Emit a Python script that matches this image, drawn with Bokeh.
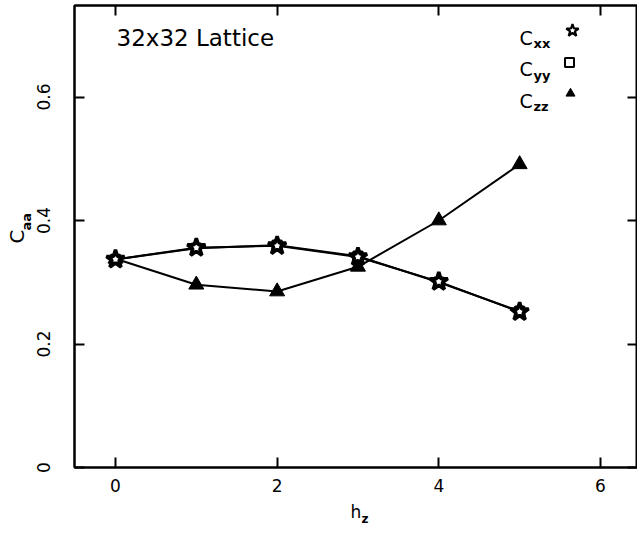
import math
from bokeh.plotting import figure
from bokeh.models import Range1d, LinearAxis, FixedTicker, Label, Title
from bokeh.embed import file_html
from bokeh.resources import INLINE

# ---- data ----
h = [0, 1, 2, 3, 4, 5]
cxx = [0.337, 0.356, 0.359, 0.341, 0.301, 0.252]
cyy = [0.337, 0.355, 0.360, 0.342, 0.300, 0.253]
czz = [0.338, 0.296, 0.285, 0.325, 0.400, 0.491]
x_ticks = [0, 2, 4, 6]
y_ticks = [0, 0.2, 0.4, 0.6]
y_tick_labels = ["0", "0.2", "0.4", "0.6"]
x_tick_labels = ["0", "2", "4", "6"]
title_text = "32x32 Lattice"
legend_main = ["C", "C", "C"]
legend_sub = ["xx", "yy", "zz"]
x_title, x_title_sub = "h", "z"
y_title, y_title_sub = "C", "aa"

# ---- layout (figure pixel coordinates) ----
FX0, FW = 74, 563          # frame left and width
FY0, FH = 5, 462           # frame top and height
XMIN = -0.507
XMAX = XMIN + FW / 80.83
YMIN = 0.0
YMAX = FH / 617.5
FONT = "DejaVu Sans"

def dx(px):
    return XMIN + (px - FX0) / FW * (XMAX - XMIN)

def dy(py):
    return YMIN + (FY0 + FH - py) / FH * (YMAX - YMIN)

p = figure(frame_width=FW, frame_height=FH,
           x_range=Range1d(XMIN, XMAX), y_range=Range1d(YMIN, YMAX),
           output_backend="svg", toolbar_location=None,
           min_border_left=FX0, min_border_top=FY0,
           min_border_right=0, min_border_bottom=544 - FY0 - FH,
           background_fill_color="white", border_fill_color="white")
p.grid.visible = False
p.outline_line_color = "black"
p.outline_line_width = 2

def style_axis(ax, show_labels, standoff):
    ax.axis_line_width = 2
    ax.axis_line_color = "black"
    ax.major_tick_in = 10
    ax.major_tick_out = 0
    ax.major_tick_line_width = 2
    ax.major_tick_line_color = "black"
    ax.minor_tick_line_color = None
    ax.major_label_standoff = standoff
    if show_labels:
        ax.major_label_text_font = FONT
        ax.major_label_text_font_size = "17px"
        ax.major_label_text_color = "black"
    else:
        ax.major_label_text_font_size = "0px"
        ax.major_label_text_color = None

p.xaxis.ticker = FixedTicker(ticks=x_ticks)
p.yaxis.ticker = FixedTicker(ticks=y_ticks)
p.xaxis.major_label_overrides = {t: s for t, s in zip(x_ticks, x_tick_labels)}
p.yaxis.major_label_overrides = {t: s for t, s in zip(y_ticks, y_tick_labels)}
p.yaxis.major_label_orientation = "vertical"
style_axis(p.xaxis[0], True, 11)
style_axis(p.yaxis[0], True, 25)

top = LinearAxis(ticker=FixedTicker(ticks=x_ticks))
right = LinearAxis(ticker=FixedTicker(ticks=y_ticks))
style_axis(top, False, 0)
style_axis(right, False, 0)
p.add_layout(top, "above")
p.add_layout(right, "right")

# ---- axis titles (side panels; offsets measured from the frame edges) ----
p.add_layout(Title(text=y_title_sub, align="left", offset=FY0 + FH - 230, standoff=0,
                   text_font=FONT, text_font_size="13px", text_font_style="bold",
                   text_color="black"), "left")
p.add_layout(Title(text=y_title, align="center", standoff=-24,
                   text_font=FONT, text_font_size="20px", text_font_style="normal",
                   text_color="black"), "left")
p.add_layout(Title(text=x_title, align="left", offset=350 - FX0, standoff=10,
                   text_font=FONT, text_font_size="17px", text_font_style="normal",
                   text_color="black"), "below")
p.add_layout(Title(text=x_title_sub, align="left", offset=361 - FX0, standoff=-30,
                   vertical_align="top",
                   text_font=FONT, text_font_size="12px", text_font_style="bold",
                   text_color="black"), "below")

# ---- series ----
p.line(h, czz, line_color="black", line_width=2)
p.line(h, cxx, line_color="black", line_width=2)
p.line(h, cyy, line_color="black", line_width=2)
p.scatter(h, czz, marker="triangle", size=15, fill_color="black", line_color="black")
p.scatter(h, cxx, marker="star", size=19, fill_color="white", line_color="black", line_width=3.5)
p.scatter(h, cyy, marker="square", size=9, fill_color=None, line_color="black", line_width=2.5)

# ---- in-plot texts ----
p.add_layout(Label(x=dx(116), y=dy(37), text=title_text, text_font=FONT,
                   text_font_size="23px", text_baseline="alphabetic", text_color="black"))

base_main = [37, 68, 100]
base_sub = [43, 75, 106]
for m, s, bm, bs in zip(legend_main, legend_sub, base_main, base_sub):
    p.add_layout(Label(x=dx(519), y=dy(bm), text=m, text_font=FONT,
                       text_font_size="19px", text_baseline="alphabetic",
                       text_color="black"))
    p.add_layout(Label(x=dx(533), y=dy(bs), text=s, text_font=FONT,
                       text_font_size="13px", text_font_style="bold",
                       text_baseline="alphabetic", text_color="black"))

p.scatter([dx(572)], [dy(30)], marker="star", size=13, fill_color="white",
          line_color="black", line_width=2.2)
p.scatter([dx(569)], [dy(62)], marker="square", size=9, fill_color=None,
          line_color="black", line_width=2)
p.scatter([dx(570)], [dy(93)], marker="triangle", size=9, fill_color="black",
          line_color="black")

open("out.html", "w").write(file_html(p, INLINE))
